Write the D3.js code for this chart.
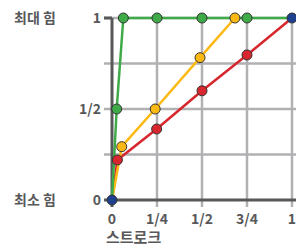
<!DOCTYPE html>
<html><head><meta charset="utf-8">
<script src="https://cdn.jsdelivr.net/npm/d3@7"></script>
<style>body{margin:0;background:#fff}svg{display:block}text{font-family:"Noto Sans CJK KR","Noto Sans",sans-serif;font-weight:700;fill:#58585a}</style>
</head><body><svg id="c" width="296" height="246"></svg>
<script>
const xTicks = [0, 0.25, 0.5, 0.75, 1];
const xTickLabels = ["0", "1/4", "1/2", "3/4", "1"];
const yTicks = [0, 0.5, 1];
const yTickLabels = ["0", "1/2", "1"];
const yGrid = [0.25, 0.5, 0.75, 1];
const sideLabels = ["최소 힘", "최대 힘"];
const xTitle = "스트로크";
const greenPts = [[0,0],[0.026,0.5],[0.063,1],[0.25,1],[0.5,1],[0.75,1],[1,1]];
const orangePts = [[0,0],[0.054,0.293],[0.24,0.5],[0.489,0.782],[0.683,1]];
const redPts = [[0,0],[0.03,0.22],[0.248,0.39],[0.5,0.6],[0.75,0.797],[1,1]];
const bluePts = [[0,0],[1,1]];

const svg = d3.select("#c");
const x = d3.scaleLinear().domain([0,1]).range([112,292]);
const y = d3.scaleLinear().domain([0,1]).range([200,18]);
const grid = "#b1b1b4", dark = "#58585a";

// grid
svg.selectAll(".hg").data(yGrid).join("line")
  .attr("x1", x(0)-8).attr("x2", 296).attr("y1", d=>y(d)).attr("y2", d=>y(d))
  .attr("stroke", grid).attr("stroke-width", 2.5);
svg.selectAll(".vg").data(xTicks.slice(1)).join("line")
  .attr("x1", d=>x(d)).attr("x2", d=>x(d)).attr("y1", y(1)).attr("y2", y(0)+7)
  .attr("stroke", grid).attr("stroke-width", 2.5);
// axes
svg.append("line").attr("x1", x(0)).attr("x2", x(0)).attr("y1", y(1)).attr("y2", y(0)+7)
  .attr("stroke", dark).attr("stroke-width", 3);
svg.append("line").attr("x1", x(0)-8).attr("x2", 296).attr("y1", y(0)).attr("y2", y(0))
  .attr("stroke", dark).attr("stroke-width", 3);
svg.append("line").attr("x1", x(0)-8).attr("x2", x(0)).attr("y1", y(1)).attr("y2", y(1))
  .attr("stroke", dark).attr("stroke-width", 3);

// labels
svg.selectAll(".yl").data(yTicks).join("text")
  .attr("x", 101).attr("y", d=>y(d)).attr("dy", "0.36em").attr("text-anchor", "end")
  .attr("font-size", 14).text((d,i)=>yTickLabels[i]);
svg.selectAll(".xl").data(xTicks).join("text")
  .attr("x", d=>x(d)).attr("y", 219).attr("dy", "0.36em").attr("text-anchor", "middle")
  .attr("font-size", 14).text((d,i)=>xTickLabels[i]);
svg.selectAll(".sl").data([0,1]).join("text")
  .attr("x", 14).attr("y", d=>y(d)).attr("dy", "0.36em")
  .attr("font-size", 14).text((d,i)=>sideLabels[i]);
svg.append("text").attr("x", 106).attr("y", 238).attr("dy", "0.36em")
  .attr("font-size", 15).text(xTitle);

const line = d3.line().x(d=>x(d[0])).y(d=>y(d[1]));
const series = [
  {pts: redPts, c: "#d7262d"},
  {pts: orangePts, c: "#fdb913"},
  {pts: greenPts, c: "#3eaa48"}
];
series.forEach(s => svg.append("path").attr("d", line(s.pts)).attr("fill","none")
  .attr("stroke", s.c).attr("stroke-width", 2.5));
series.forEach(s => svg.selectAll(null).data(s.pts.filter(p=>!(p[0]===0&&p[1]===0)&&!(p[0]===1&&p[1]===1))).join("circle")
  .attr("cx", d=>x(d[0])).attr("cy", d=>y(d[1])).attr("r", 5)
  .attr("fill", s.c).attr("stroke", "#333").attr("stroke-width", 1));
svg.selectAll(null).data(bluePts).join("circle")
  .attr("cx", d=>x(d[0])).attr("cy", d=>y(d[1])).attr("r", 5)
  .attr("fill", "#1f3f8f").attr("stroke", "#333").attr("stroke-width", 1);
</script></body></html>
